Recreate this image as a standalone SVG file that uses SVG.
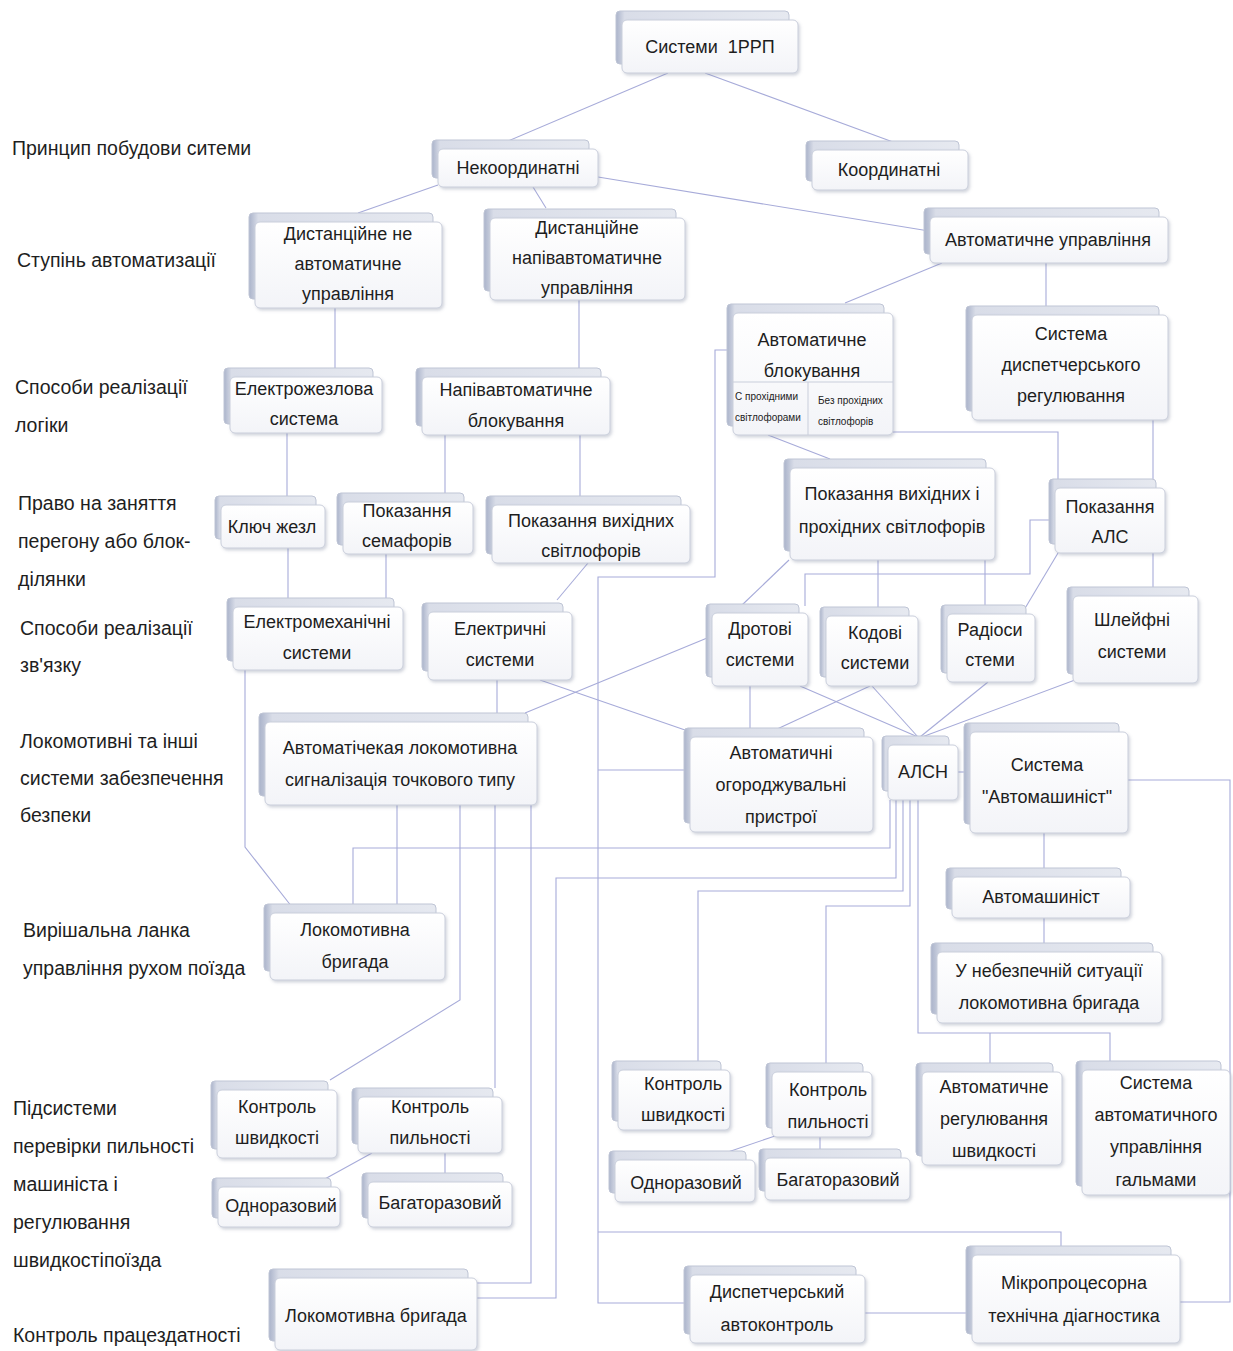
<svg xmlns="http://www.w3.org/2000/svg" width="1233" height="1351" viewBox="0 0 1233 1351">
<defs>
<linearGradient id="gBk" x1="0" y1="0" x2="1" y2="0">
<stop offset="0" stop-color="#aab3ca"/><stop offset="0.05" stop-color="#d9dde8"/><stop offset="1" stop-color="#e6e9f0"/>
</linearGradient>
<linearGradient id="gFr" x1="0" y1="0" x2="0" y2="1">
<stop offset="0" stop-color="#ffffff"/><stop offset="1" stop-color="#f3f4f8"/>
</linearGradient>
<filter id="sh" x="-10%" y="-10%" width="125%" height="130%">
<feDropShadow dx="1.5" dy="2" stdDeviation="1.4" flood-color="#7d849c" flood-opacity="0.35"/>
</filter>
<style>
.bk{fill:url(#gBk);stroke:#bfc5d5;stroke-width:1}
.fr{fill:url(#gFr);stroke:#c9cedb;stroke-width:1;filter:url(#sh)}
.t{font-family:"Liberation Sans",Arial,sans-serif;font-size:18px;fill:#1e1e1e;text-anchor:middle;dominant-baseline:central}
.s{font-family:"Liberation Sans",Arial,sans-serif;font-size:10px;fill:#222;dominant-baseline:central}
.lb{font-family:"Liberation Sans",Arial,sans-serif;font-size:19.5px;fill:#1e1e1e;dominant-baseline:central}
.c{fill:none;stroke:#a7abd9;stroke-width:1.1}
.dv{stroke:#c9cedb;stroke-width:1}
</style>
</defs>
<rect width="1233" height="1351" fill="#ffffff"/>

<g id="labels">
<text class="lb" x="12" y="148">Принцип побудови ситеми</text>
<text class="lb" x="17" y="260">Ступінь автоматизації</text>
<text class="lb"><tspan x="15" y="387">Способи реалізації</tspan><tspan x="15" y="425">логіки</tspan></text>
<text class="lb"><tspan x="18" y="503">Право на заняття</tspan><tspan x="18" y="541">перегону або блок-</tspan><tspan x="18" y="579">ділянки</tspan></text>
<text class="lb"><tspan x="20" y="628">Способи реалізації</tspan><tspan x="20" y="665">зв'язку</tspan></text>
<text class="lb"><tspan x="20" y="741">Локомотивні та інші</tspan><tspan x="20" y="778">системи забезпечення</tspan><tspan x="20" y="815">безпеки</tspan></text>
<text class="lb"><tspan x="23" y="930">Вирішальна ланка</tspan><tspan x="23" y="968">управління рухом поїзда</tspan></text>
<text class="lb"><tspan x="13" y="1108">Підсистеми</tspan><tspan x="13" y="1146">перевірки пильності</tspan><tspan x="13" y="1184">машиніста і</tspan><tspan x="13" y="1222">регулювання</tspan><tspan x="13" y="1260">швидкостіпоїзда</tspan></text>
<text class="lb" x="13" y="1335">Контроль працездатності</text>
</g>

<g id="connectors">
<path class="c" d="M668,73 L508,141"/>
<path class="c" d="M705,73 L893,142"/>
<path class="c" d="M438,185 L358,213"/>
<path class="c" d="M533,187 L546,208"/>
<path class="c" d="M598,177 L929,231"/>
<path class="c" d="M335,308 V370"/>
<path class="c" d="M579,300 V370"/>
<path class="c" d="M942,263 L845,303"/>
<path class="c" d="M1046,263 V307"/>
<path class="c" d="M287,433 V496"/>
<path class="c" d="M445,435 V493"/>
<path class="c" d="M580,435 V497"/>
<path class="c" d="M288,548 V598"/>
<path class="c" d="M386,554 V598"/>
<path class="c" d="M588,563 L557,600"/>
<path class="c" d="M733,350 H715 V577 H598 V1303 H690"/>
<path class="c" d="M598,1232 H1061 V1247"/>
<path class="c" d="M768,435 L830,459"/>
<path class="c" d="M893,432 H1058 V480"/>
<path class="c" d="M1153,420 V588"/>
<path class="c" d="M789,560 L741,606"/>
<path class="c" d="M878,560 V608"/>
<path class="c" d="M985,560 V606"/>
<path class="c" d="M1055,520 H1030 V574 H805 V606"/>
<path class="c" d="M1058,553 L1024,610"/>
<path class="c" d="M245,670 V847 L292,907"/>
<path class="c" d="M497,680 V714"/>
<path class="c" d="M712,636 L525,713"/>
<path class="c" d="M540,680 L714,740"/>
<path class="c" d="M750,686 V729"/>
<path class="c" d="M870,686 L775,730"/>
<path class="c" d="M800,686 L918,737"/>
<path class="c" d="M872,686 L918,737"/>
<path class="c" d="M988,682 L920,737"/>
<path class="c" d="M1075,680 L922,737"/>
<path class="c" d="M690,770 H598"/>
<path class="c" d="M958,772 H970"/>
<path class="c" d="M890,800 V848 H353 V905"/>
<path class="c" d="M397,805 V905"/>
<path class="c" d="M460,805 V1000 L330,1080"/>
<path class="c" d="M495,805 V1088"/>
<path class="c" d="M531,805 V1283 H477"/>
<path class="c" d="M896,800 V878 H556 V1298 H477"/>
<path class="c" d="M903,800 V891 H698 V1062"/>
<path class="c" d="M910,800 V906 H826 V1064"/>
<path class="c" d="M918,800 V1033 H1110 V1062 M990,1033 V1064"/>
<path class="c" d="M1044,833 V868"/>
<path class="c" d="M1044,918 V943"/>
<path class="c" d="M1128,780 H1230 V1302 H1180"/>
<path class="c" d="M865,1313 H972"/>
<path class="c" d="M372,1153 L323,1180"/>
<path class="c" d="M445,1153 V1174"/>
<path class="c" d="M775,1136 L725,1153"/>
<path class="c" d="M820,1137 V1150"/>
</g>

<g id="n-sys"><rect class="bk" x="616" y="11" width="173" height="53" rx="4"/><rect class="fr" x="622" y="20" width="176" height="53" rx="5"/><text class="t" x="710" y="47" xml:space="preserve">Системи  1РРП</text></g>
<g id="n-nekoord"><rect class="bk" x="432" y="140" width="157" height="38" rx="4"/><rect class="fr" x="438" y="149" width="160" height="38" rx="5"/><text class="t" x="518" y="168">Некоординатні</text></g>
<g id="n-koord"><rect class="bk" x="806" y="141" width="153" height="40" rx="4"/><rect class="fr" x="812" y="150" width="156" height="40" rx="5"/><text class="t" x="889" y="170">Координатні</text></g>
<g id="n-dist-ne"><rect class="bk" x="249" y="213" width="184" height="86" rx="4"/><rect class="fr" x="255" y="222" width="187" height="86" rx="5"/><text class="t"><tspan x="348" y="234">Дистанційне не</tspan><tspan x="348" y="264">автоматичне</tspan><tspan x="348" y="294">управління</tspan></text></g>
<g id="n-dist-napiv"><rect class="bk" x="484" y="209" width="192" height="82" rx="4"/><rect class="fr" x="490" y="218" width="195" height="82" rx="5"/><text class="t"><tspan x="587" y="228">Дистанційне</tspan><tspan x="587" y="258">напівавтоматичне</tspan><tspan x="587" y="288">управління</tspan></text></g>
<g id="n-avt-upr"><rect class="bk" x="924" y="208" width="235" height="46" rx="4"/><rect class="fr" x="930" y="217" width="238" height="46" rx="5"/><text class="t" x="1048" y="240">Автоматичне управління</text></g>
<g id="n-avt-blok"><rect class="bk" x="727" y="304" width="157" height="122" rx="4"/><rect class="fr" x="733" y="313" width="160" height="122" rx="5"/><text class="t"><tspan x="812" y="340">Автоматичне</tspan><tspan x="812" y="371">блокування</tspan></text><line class="dv" x1="733" y1="382" x2="893" y2="382"/><line class="dv" x1="808" y1="382" x2="808" y2="435"/><text class="s"><tspan x="735" y="396">С прохідними</tspan><tspan x="735" y="417">світлофорами</tspan></text><text class="s"><tspan x="818" y="400">Без прохідних</tspan><tspan x="818" y="421">світлофорів</tspan></text></g>
<g id="n-sys-disp"><rect class="bk" x="966" y="306" width="193" height="105" rx="4"/><rect class="fr" x="972" y="315" width="196" height="105" rx="5"/><text class="t"><tspan x="1071" y="334">Система</tspan><tspan x="1071" y="365">диспетчерського</tspan><tspan x="1071" y="396">регулювання</tspan></text></g>
<g id="n-elzhezl"><rect class="bk" x="224" y="368" width="149" height="56" rx="4"/><rect class="fr" x="230" y="377" width="152" height="56" rx="5"/><text class="t"><tspan x="304" y="389">Електрожезлова</tspan><tspan x="304" y="419">система</tspan></text></g>
<g id="n-napiv-blok"><rect class="bk" x="416" y="368" width="185" height="58" rx="4"/><rect class="fr" x="422" y="377" width="188" height="58" rx="5"/><text class="t"><tspan x="516" y="390">Напівавтоматичне</tspan><tspan x="516" y="421">блокування</tspan></text></g>
<g id="n-kluch"><rect class="bk" x="215" y="496" width="101" height="43" rx="4"/><rect class="fr" x="221" y="505" width="104" height="43" rx="5"/><text class="t" x="272" y="527">Ключ жезл</text></g>
<g id="n-semafor"><rect class="bk" x="337" y="493" width="127" height="52" rx="4"/><rect class="fr" x="343" y="502" width="130" height="52" rx="5"/><text class="t"><tspan x="407" y="511">Показання</tspan><tspan x="407" y="541">семафорів</tspan></text></g>
<g id="n-pok-vyh"><rect class="bk" x="486" y="496" width="195" height="58" rx="4"/><rect class="fr" x="492" y="505" width="198" height="58" rx="5"/><text class="t"><tspan x="591" y="521">Показання вихідних</tspan><tspan x="591" y="551">світлофорів</tspan></text></g>
<g id="n-pok-vyh-prokh"><rect class="bk" x="784" y="459" width="202" height="92" rx="4"/><rect class="fr" x="790" y="468" width="205" height="92" rx="5"/><text class="t"><tspan x="892" y="494">Показання вихідних і</tspan><tspan x="892" y="527">прохідних світлофорів</tspan></text></g>
<g id="n-pok-als"><rect class="bk" x="1049" y="479" width="107" height="65" rx="4"/><rect class="fr" x="1055" y="488" width="110" height="65" rx="5"/><text class="t"><tspan x="1110" y="507">Показання</tspan><tspan x="1110" y="537">АЛС</tspan></text></g>
<g id="n-elmekh"><rect class="bk" x="227" y="598" width="167" height="63" rx="4"/><rect class="fr" x="233" y="607" width="170" height="63" rx="5"/><text class="t"><tspan x="317" y="622">Електромеханічні</tspan><tspan x="317" y="653">системи</tspan></text></g>
<g id="n-elektr"><rect class="bk" x="422" y="603" width="141" height="68" rx="4"/><rect class="fr" x="428" y="612" width="144" height="68" rx="5"/><text class="t"><tspan x="500" y="629">Електричні</tspan><tspan x="500" y="660">системи</tspan></text></g>
<g id="n-drot"><rect class="bk" x="706" y="604" width="93" height="73" rx="4"/><rect class="fr" x="712" y="613" width="96" height="73" rx="5"/><text class="t"><tspan x="760" y="629">Дротові</tspan><tspan x="760" y="660">системи</tspan></text></g>
<g id="n-kod"><rect class="bk" x="820" y="607" width="89" height="70" rx="4"/><rect class="fr" x="826" y="616" width="92" height="70" rx="5"/><text class="t"><tspan x="875" y="633">Кодові</tspan><tspan x="875" y="663">системи</tspan></text></g>
<g id="n-radio"><rect class="bk" x="941" y="605" width="85" height="68" rx="4"/><rect class="fr" x="947" y="614" width="88" height="68" rx="5"/><text class="t"><tspan x="990" y="630">Радіоси</tspan><tspan x="990" y="660">стеми</tspan></text></g>
<g id="n-shleif"><rect class="bk" x="1067" y="587" width="122" height="87" rx="4"/><rect class="fr" x="1073" y="596" width="125" height="87" rx="5"/><text class="t"><tspan x="1132" y="620">Шлейфні</tspan><tspan x="1132" y="652">системи</tspan></text></g>
<g id="n-alst"><rect class="bk" x="259" y="713" width="269" height="83" rx="4"/><rect class="fr" x="265" y="722" width="272" height="83" rx="5"/><text class="t"><tspan x="400" y="748">Автоматічекая локомотивна</tspan><tspan x="400" y="780">сигналізація точкового типу</tspan></text></g>
<g id="n-aog"><rect class="bk" x="684" y="728" width="180" height="95" rx="4"/><rect class="fr" x="690" y="737" width="183" height="95" rx="5"/><text class="t"><tspan x="781" y="753">Автоматичні</tspan><tspan x="781" y="785">огороджувальні</tspan><tspan x="781" y="817">пристрої</tspan></text></g>
<g id="n-alsn"><rect class="bk" x="882" y="736" width="67" height="55" rx="4"/><rect class="fr" x="888" y="745" width="70" height="55" rx="5"/><text class="t" x="923" y="772">АЛСН</text></g>
<g id="n-sys-avtomash"><rect class="bk" x="964" y="723" width="155" height="101" rx="4"/><rect class="fr" x="970" y="732" width="158" height="101" rx="5"/><text class="t"><tspan x="1047" y="765">Система</tspan><tspan x="1047" y="797">"Автомашиніст"</tspan></text></g>
<g id="n-avtomash"><rect class="bk" x="946" y="868" width="175" height="41" rx="4"/><rect class="fr" x="952" y="877" width="178" height="41" rx="5"/><text class="t" x="1041" y="897">Автомашиніст</text></g>
<g id="n-nebezp"><rect class="bk" x="931" y="943" width="222" height="71" rx="4"/><rect class="fr" x="937" y="952" width="225" height="71" rx="5"/><text class="t"><tspan x="1049" y="971">У небезпечній ситуації</tspan><tspan x="1049" y="1003">локомотивна бригада</tspan></text></g>
<g id="n-lokbr1"><rect class="bk" x="264" y="904" width="172" height="67" rx="4"/><rect class="fr" x="270" y="913" width="175" height="67" rx="5"/><text class="t"><tspan x="355" y="930">Локомотивна</tspan><tspan x="355" y="962">бригада</tspan></text></g>
<g id="n-kshv-l"><rect class="bk" x="211" y="1081" width="117" height="68" rx="4"/><rect class="fr" x="217" y="1090" width="120" height="68" rx="5"/><text class="t"><tspan x="277" y="1107">Контроль</tspan><tspan x="277" y="1138">швидкості</tspan></text></g>
<g id="n-kpyl-l"><rect class="bk" x="352" y="1088" width="141" height="56" rx="4"/><rect class="fr" x="358" y="1097" width="144" height="56" rx="5"/><text class="t"><tspan x="430" y="1107">Контроль</tspan><tspan x="430" y="1138">пильності</tspan></text></g>
<g id="n-odn-l"><rect class="bk" x="212" y="1178" width="119" height="40" rx="4"/><rect class="fr" x="218" y="1187" width="122" height="40" rx="5"/><text class="t" x="281" y="1206">Одноразовий</text></g>
<g id="n-bag-l"><rect class="bk" x="362" y="1173" width="141" height="45" rx="4"/><rect class="fr" x="368" y="1182" width="144" height="45" rx="5"/><text class="t" x="440" y="1203">Багаторазовий</text></g>
<g id="n-lokbr2"><rect class="bk" x="269" y="1269" width="199" height="72" rx="4"/><rect class="fr" x="275" y="1278" width="202" height="72" rx="5"/><text class="t" x="376" y="1316">Локомотивна бригада</text></g>
<g id="n-kshv-r"><rect class="bk" x="612" y="1061" width="109" height="60" rx="4"/><rect class="fr" x="618" y="1070" width="112" height="60" rx="5"/><text class="t"><tspan x="683" y="1084">Контроль</tspan><tspan x="683" y="1115">швидкості</tspan></text></g>
<g id="n-kpyl-r"><rect class="bk" x="766" y="1063" width="97" height="65" rx="4"/><rect class="fr" x="772" y="1072" width="100" height="65" rx="5"/><text class="t"><tspan x="828" y="1090">Контроль</tspan><tspan x="828" y="1122">пильності</tspan></text></g>
<g id="n-odn-r"><rect class="bk" x="609" y="1151" width="137" height="42" rx="4"/><rect class="fr" x="615" y="1160" width="140" height="42" rx="5"/><text class="t" x="686" y="1183">Одноразовий</text></g>
<g id="n-bag-r"><rect class="bk" x="759" y="1149" width="142" height="42" rx="4"/><rect class="fr" x="765" y="1158" width="145" height="42" rx="5"/><text class="t" x="838" y="1180">Багаторазовий</text></g>
<g id="n-avt-reg"><rect class="bk" x="916" y="1063" width="137" height="93" rx="4"/><rect class="fr" x="922" y="1072" width="140" height="93" rx="5"/><text class="t"><tspan x="994" y="1087">Автоматичне</tspan><tspan x="994" y="1119">регулювання</tspan><tspan x="994" y="1151">швидкості</tspan></text></g>
<g id="n-galm"><rect class="bk" x="1076" y="1061" width="145" height="125" rx="4"/><rect class="fr" x="1082" y="1070" width="148" height="125" rx="5"/><text class="t"><tspan x="1156" y="1083">Система</tspan><tspan x="1156" y="1115">автоматичного</tspan><tspan x="1156" y="1147">управління</tspan><tspan x="1156" y="1180">гальмами</tspan></text></g>
<g id="n-disp-ak"><rect class="bk" x="684" y="1266" width="172" height="68" rx="4"/><rect class="fr" x="690" y="1275" width="175" height="68" rx="5"/><text class="t"><tspan x="777" y="1292">Диспетчерський</tspan><tspan x="777" y="1325">автоконтроль</tspan></text></g>
<g id="n-mikro"><rect class="bk" x="966" y="1246" width="205" height="88" rx="4"/><rect class="fr" x="972" y="1255" width="208" height="88" rx="5"/><text class="t"><tspan x="1074" y="1283">Мікропроцесорна</tspan><tspan x="1074" y="1316">технічна діагностика</tspan></text></g>
</svg>
